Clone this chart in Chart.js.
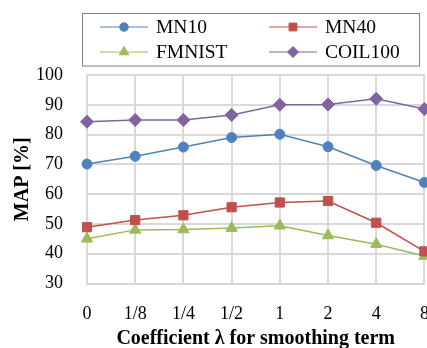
<!DOCTYPE html>
<html>
<head>
<meta charset="utf-8">
<script src="https://cdn.jsdelivr.net/npm/chart.js@4/dist/chart.umd.min.js"></script>
<style>
  html, body { margin: 0; padding: 0; background: #fff; overflow: hidden; }
  #wrap { width: 440px; height: 348px; }
</style>
</head>
<body>
<div id="wrap"><canvas id="chart" width="440" height="348"></canvas></div>
<script>
const lambdas = ['0', '1/8', '1/4', '1/2', '1', '2', '4', '8'];
const mn10 = [70.1, 72.7, 75.8, 79.0, 80.1, 75.9, 69.6, 63.9];
const mn40 = [48.9, 51.3, 52.9, 55.6, 57.2, 57.7, 50.4, 40.8];
const fmnist = [45.0, 48.0, 48.1, 48.6, 49.4, 46.1, 43.2, 39.2];
const coil100 = [84.3, 84.9, 84.9, 86.6, 90.0, 90.1, 92.0, 88.6];

const serif = "'Liberation Serif', 'Times New Roman', serif";

const series = [
    { label: 'MN10', data: mn10, color: '#4F81BD', pointStyle: 'circle', radius: 5 },
    { label: 'MN40', data: mn40, color: '#C0504D', pointStyle: 'rect', radius: 6.5 },
    { label: 'FMNIST', data: fmnist, color: '#9BBB59', pointStyle: 'triangle', radius: 6.5 },
    { label: 'COIL100', data: coil100, color: '#8064A2', pointStyle: 'rectRot', radius: 6.5 },
];

// legend drawn by hand: 2x2 grid in a bordered box, line + marker
const boxLegend = {
    id: 'boxLegend',
    afterDraw(chart) {
        const ctx = chart.ctx;
        ctx.save();
        ctx.strokeStyle = '#7f7f7f';
        ctx.lineWidth = 1;
        ctx.strokeRect(82.5, 13.5, 337, 52.5);
        const cols = [100, 269];
        const rows = [27, 52];
        chart.data.datasets.forEach((ds, i) => {
            const x0 = cols[i % 2];
            const y = rows[Math.floor(i / 2)];
            ctx.strokeStyle = ds.borderColor;
            ctx.fillStyle = ds.backgroundColor;
            ctx.lineWidth = 1;
            ctx.beginPath();
            ctx.moveTo(x0, y);
            ctx.lineTo(x0 + 48, y);
            ctx.stroke();
            Chart.helpers.drawPoint(ctx, {
                pointStyle: ds.pointStyle,
                radius: ds.pointRadius * 0.85,
                rotation: 0,
                borderWidth: 1
            }, x0 + 24, y);
            ctx.fillStyle = '#000';
            ctx.font = '19.5px ' + serif;
            ctx.textBaseline = 'middle';
            ctx.textAlign = 'left';
            ctx.fillText(ds.label, x0 + 56, y + 1);
        });
        ctx.restore();
    }
};

new Chart(document.getElementById('chart').getContext('2d'), {
    type: 'line',
    data: {
        labels: lambdas,
        datasets: series.map(s => ({
            label: s.label,
            data: s.data,
            borderColor: s.color,
            backgroundColor: s.color,
            borderWidth: 1.5,
            pointStyle: s.pointStyle,
            pointRadius: s.radius,
            pointBorderWidth: 1,
            tension: 0,
            clip: false,
        })),
    },
    options: {
        responsive: false,
        animation: false,
        layout: { autoPadding: false, padding: { top: 75, right: 15.6, left: 0, bottom: 0 } },
        plugins: {
            legend: { display: false },
            tooltip: { enabled: false },
        },
        scales: {
            x: {
                offset: false,
                grid: { color: '#d9d9d9', lineWidth: 2, drawTicks: false },
                border: { color: '#d9d9d9', width: 2 },
                ticks: { color: '#000', font: { family: serif, size: 18 }, padding: 20, maxRotation: 0, autoSkip: false },
                title: {
                    display: true,
                    text: 'Coefficient λ for smoothing term',
                    color: '#000',
                    font: { family: serif, size: 20, weight: 'bold' },
                    padding: { top: 9, bottom: -3 },
                },
                afterFit: (scale) => {
                    scale.height = 64.5;
                    // the last label is allowed to run off the edge, as in the reference
                    scale.paddingLeft = 0;
                    scale.paddingRight = 0;
                },
            },
            y: {
                min: 30,
                max: 100,
                grid: { color: '#d9d9d9', lineWidth: 2, drawTicks: false },
                border: { color: '#d9d9d9', width: 2 },
                ticks: { stepSize: 10, color: '#000', font: { family: serif, size: 18 }, padding: 24 },
                title: {
                    display: true,
                    text: 'MAP [%]',
                    color: '#000',
                    font: { family: serif, size: 20, weight: 'bold' },
                    padding: { top: 11, bottom: 0 },
                },
                afterFit: (scale) => { scale.width = 87; },
            },
        },
    },
    plugins: [boxLegend],
});
</script>
</body>
</html>
